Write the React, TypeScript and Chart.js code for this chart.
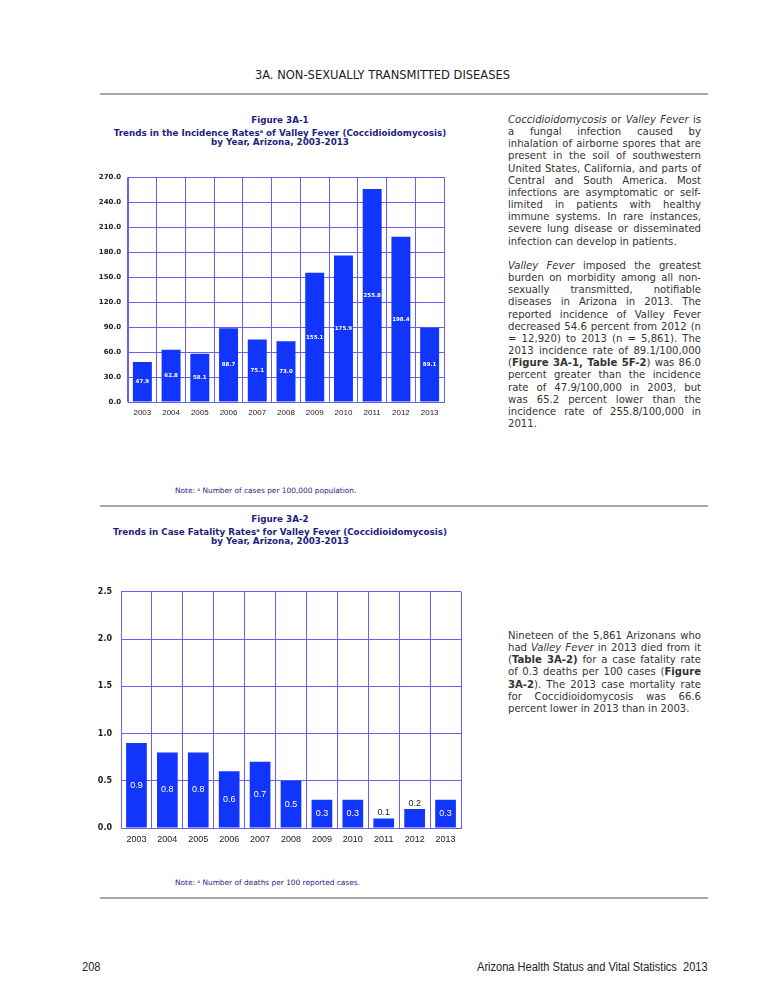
import React, { useEffect, useRef } from 'react';
import { Chart, registerables } from 'chart.js';

Chart.register(...registerables);

// ---------- data ----------
const years = ['2003', '2004', '2005', '2006', '2007', '2008', '2009', '2010', '2011', '2012', '2013'];
const incidenceRates = [47.9, 62.8, 58.1, 88.7, 75.1, 73.0, 155.1, 175.9, 255.8, 198.4, 89.1];
const incidenceAxis = [0, 270, 30]; // min, max, step
const fatalityRates = [0.9, 0.8, 0.8, 0.6, 0.7, 0.5, 0.3, 0.3, 0.1, 0.2, 0.3];
const fatalityAxis = [0, 2.5, 0.5];

const para1 = [
  ['<i>Coccidioidomycosis</i> or <i>Valley Fever</i> is', true],
  ['a fungal infection caused by', true],
  ['inhalation of airborne spores that are', true],
  ['present in the soil of southwestern', true],
  ['United States, California, and parts of', true],
  ['Central and South America. Most', true],
  ['infections are asymptomatic or self-', true],
  ['limited in patients with healthy', true],
  ['immune systems. In rare instances,', true],
  ['severe lung disease or disseminated', true],
  ['infection can develop in patients.', false],
];
const para2 = [
  ['<i>Valley Fever</i> imposed the greatest', true],
  ['burden on morbidity among all non-', true],
  ['sexually transmitted, notifiable', true],
  ['diseases in Arizona in 2013. The', true],
  ['reported incidence of Valley Fever', true],
  ['decreased 54.6 percent from 2012 (n', true],
  ['= 12,920) to 2013 (n = 5,861). The', true],
  ['2013 incidence rate of 89.1/100,000', true],
  ['(<b>Figure 3A-1, Table 5F-2</b>) was 86.0', true],
  ['percent greater than the incidence', true],
  ['rate of 47.9/100,000 in 2003, but', true],
  ['was 65.2 percent lower than the', true],
  ['incidence rate of 255.8/100,000 in', true],
  ['2011.', false],
];
const para3 = [
  ['Nineteen of the 5,861 Arizonans who', true],
  ['had <i>Valley Fever</i> in 2013 died from it', true],
  ['(<b>Table 3A-2)</b> for a case fatality rate', true],
  ['of 0.3 deaths per 100 cases (<b>Figure</b>', true],
  ['<b>3A-2</b>). The 2013 case mortality rate', true],
  ['for Coccidioidomycosis was 66.6', true],
  ['percent lower in 2013 than in 2003.', false],
];

// ---------- styles ----------
const BAR = '#1235fb';
const GRID = '#6a5ff0';
const NAVY = '#1e1e7e';

const valueLabels = {
  id: 'valueLabels',
  afterDatasetsDraw(chart: any, _args: any, opts: any) {
    const ctx = chart.ctx;
    const meta = chart.getDatasetMeta(0);
    const data = chart.data.datasets[0].data;
    ctx.save();
    ctx.font = opts.font;
    ctx.textAlign = 'center';
    ctx.textBaseline = 'middle';
    meta.data.forEach((bar: any, i: number) => {
      const { x, y, base } = bar.getProps(['x', 'y', 'base'], true);
      const txt = Number(data[i]).toFixed(1);
      if (base - y < opts.minInside) {
        ctx.fillStyle = opts.outsideColor;
        ctx.fillText(txt, x, y - 6);
      } else {
        ctx.fillStyle = opts.color;
        ctx.fillText(txt, x, (y + base) / 2);
      }
    });
    ctx.restore();
  },
};

type BarProps = {
  values: number[];
  axis: number[];
  left: number; top: number; width: number; height: number;
  yWidth: number; xHeight: number; padTop: number; padRight: number;
  yFont: any; xFont: any; yPad: number; xPad: number;
  labelFont: string; barPct: number; minInside: number;
};

function BarChart(p: BarProps) {
  const ref = useRef<HTMLCanvasElement>(null);
  useEffect(() => {
    const chart = new Chart(ref.current!, {
      type: 'bar',
      data: {
        labels: years,
        datasets: [{
          data: p.values,
          backgroundColor: BAR,
          borderWidth: 0,
          barPercentage: p.barPct,
          categoryPercentage: 1,
        }],
      },
      options: {
        responsive: false,
        maintainAspectRatio: false,
        animation: false,
        layout: { padding: { top: p.padTop, right: p.padRight, left: 0, bottom: 0 } },
        plugins: {
          legend: { display: false },
          tooltip: { enabled: false },
          valueLabels: { font: p.labelFont, color: '#ffffff', outsideColor: '#222222', minInside: p.minInside },
        } as any,
        scales: {
          x: {
            grid: { color: GRID, lineWidth: 1, drawTicks: false, offset: true },
            border: { color: GRID, width: 1 },
            ticks: { color: '#222', font: p.xFont, padding: p.xPad, maxRotation: 0, autoSkip: false },
            afterFit: (s: any) => { s.height = p.xHeight; },
          },
          y: {
            min: p.axis[0],
            max: p.axis[1],
            grid: { color: GRID, lineWidth: 1, drawTicks: false },
            border: { color: GRID, width: 1 },
            ticks: {
              stepSize: p.axis[2],
              color: '#222',
              font: p.yFont,
              padding: p.yPad,
              callback: (v: any) => Number(v).toFixed(1),
            },
            afterFit: (s: any) => { s.width = p.yWidth; },
          },
        },
      },
      plugins: [valueLabels],
    });
    return () => chart.destroy();
  }, []);
  return (
    <canvas
      ref={ref}
      width={p.width}
      height={p.height}
      style={{ position: 'absolute', left: p.left, top: p.top, width: p.width, height: p.height }}
    />
  );
}

function Para({ lines, top }: { lines: any[]; top: number }) {
  return (
    <>
      {lines.map(([html, just], i) => (
        <div
          key={i}
          style={{
            position: 'absolute',
            left: 508,
            width: 193,
            top: top + i * 12.15 - 6,
            height: 12,
            lineHeight: '12px',
            fontFamily: '"DejaVu Sans", Verdana, sans-serif',
            fontSize: '10.1px',
            color: '#333',
            textAlign: just ? 'justify' : 'left',
            textAlignLast: just ? 'justify' : 'left',
          } as any}
          dangerouslySetInnerHTML={{ __html: html }}
        />
      ))}
    </>
  );
}

function Title({ top, lines }: { top: number; lines: string[] }) {
  return (
    <>
      {lines.map((h, i) => (
        <div
          key={i}
          style={{
            position: 'absolute', left: 80, width: 400, top: top + i * 11 - 6, height: 12, lineHeight: '12px',
            textAlign: 'center', fontFamily: '"DejaVu Sans", Verdana, sans-serif', fontWeight: 'bold',
            fontSize: '8.75px', color: NAVY, whiteSpace: 'nowrap',
          }}
          dangerouslySetInnerHTML={{ __html: h }}
        />
      ))}
    </>
  );
}

function Note({ top, html }: { top: number; html: string }) {
  return (
    <div
      style={{
        position: 'absolute', left: 175, top: top - 5, height: 10, lineHeight: '10px',
        fontFamily: '"DejaVu Sans", Verdana, sans-serif', fontSize: '7.4px', color: NAVY, whiteSpace: 'nowrap',
      }}
      dangerouslySetInnerHTML={{ __html: html }}
    />
  );
}

function Rule({ top }: { top: number }) {
  return <div style={{ position: 'absolute', left: 100, width: 608, top: top - 1, height: 2, background: '#a8a8a8' }} />;
}

export default function App() {
  return (
    <div style={{ position: 'absolute', left: 0, top: 0, width: 765, height: 989, background: '#fff', overflow: 'hidden' }}>
      <div style={{
        position: 'absolute', left: 0, width: 765, top: 68, height: 14, lineHeight: '14px', textAlign: 'center',
        fontFamily: '"DejaVu Sans", Verdana, sans-serif', fontSize: '11.5px', color: '#222',
      }}>3A. NON-SEXUALLY TRANSMITTED DISEASES</div>
      <Rule top={94} />

      <Title top={120} lines={[
        'Figure 3A-1',
        'Trends in the Incidence Rates<sup style="font-size:5px;vertical-align:3px">a</sup> of Valley Fever (Coccidioidomycosis)',
        'by Year, Arizona, 2003-2013',
      ]} />
      <BarChart
        values={incidenceRates} axis={incidenceAxis}
        left={88} top={166} width={362} height={262}
        yWidth={40} xHeight={26} padTop={10} padRight={6}
        yFont={{ family: '"DejaVu Sans"', size: 7, weight: 'bold' }}
        xFont={{ family: '"Liberation Sans"', size: 8 }}
        yPad={7} xPad={6}
        labelFont={'bold 5.5px "DejaVu Sans"'} barPct={0.66} minInside={0}
      />
      <Note top={490} html={'Note: <sup style="font-size:4.5px;vertical-align:2px">a</sup> Number of cases per 100,000 population.'} />
      <Rule top={506} />

      <Title top={519} lines={[
        'Figure 3A-2',
        'Trends in Case Fatality Rates<sup style="font-size:5px;vertical-align:3px">a</sup> for Valley Fever (Coccidioidomycosis)',
        'by Year, Arizona, 2003-2013',
      ]} />
      <BarChart
        values={fatalityRates} axis={fatalityAxis}
        left={78} top={578} width={390} height={276}
        yWidth={43} xHeight={26} padTop={11} padRight={7}
        yFont={{ family: '"DejaVu Sans"', size: 8, weight: 'bold' }}
        xFont={{ family: '"Liberation Sans"', size: 9 }}
        yPad={9} xPad={6}
        labelFont={'9px "Liberation Sans"'} barPct={0.67} minInside={22}
      />
      <Note top={882} html={'Note: <sup style="font-size:4.5px;vertical-align:2px">a</sup> Number of deaths per 100 reported cases.'} />
      <Rule top={898} />

      <Para lines={para1} top={120} />
      <Para lines={para2} top={266} />
      <Para lines={para3} top={636} />

      <div style={{
        position: 'absolute', left: 82, top: 960, height: 14, lineHeight: '14px',
        fontFamily: '"Liberation Sans Narrow", "Liberation Sans", Arial, sans-serif', fontSize: '12px', color: '#222',
        transform: 'scaleX(0.92)', transformOrigin: 'left center',
      }}>208</div>
      <div style={{
        position: 'absolute', right: 765 - 708, top: 960, height: 14, lineHeight: '14px', whiteSpace: 'pre',
        fontFamily: '"Liberation Sans Narrow", "Liberation Sans", Arial, sans-serif', fontSize: '12px', color: '#222',
        transform: 'scaleX(0.92)', transformOrigin: 'right center',
      }}>{'Arizona Health Status and Vital Statistics  2013'}</div>
    </div>
  );
}
